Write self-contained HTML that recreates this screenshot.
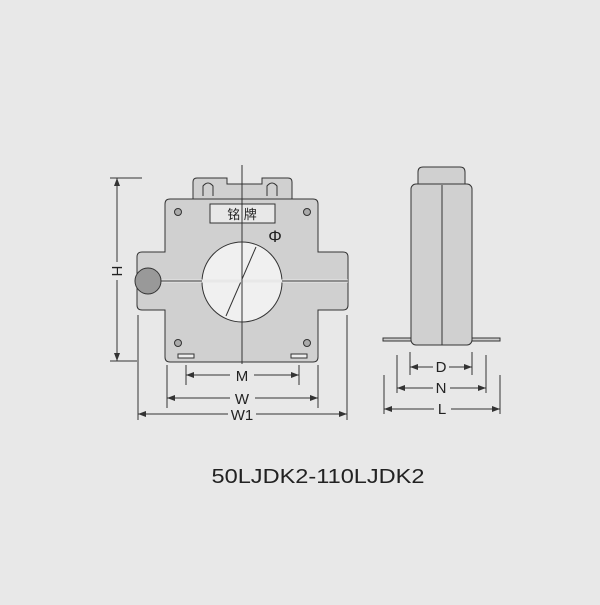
<!DOCTYPE html><html><head><style>body{margin:0;background:#e8e8e8}</style></head><body>
<svg width="600" height="600" viewBox="0 0 600 600" xmlns="http://www.w3.org/2000/svg" font-family="Liberation Sans, sans-serif">
<defs><marker id="a" markerWidth="8" markerHeight="6" refX="8" refY="3" orient="auto-start-reverse" markerUnits="userSpaceOnUse"><path d="M0,0 L8,3 L0,6z" fill="#333"/></marker></defs>
<rect width="600" height="600" fill="#e8e8e8"/>
<g stroke="#333" stroke-width="1" fill="#d0d0d0">
<path d="M193,199 V182 Q193,178 197,178 H227 V184 H262 V178 H288 Q292,178 292,182 V199z"/>
<path d="M203,196 V186 Q208,180 213,186 V196 M267,196 V186 Q272,180 277,186 V196" fill="none"/>
<path d="M170,199 H313 Q318,199 318,204 V252 H343 Q348,252 348,257 V305 Q348,310 343,310 H318 V357 Q318,362 313,362 H170 Q165,362 165,357 V310 H142 Q137,310 137,305 V257 Q137,252 142,252 H165 V204 Q165,199 170,199z"/>
<rect x="210" y="204" width="65" height="19" fill="#e8e8e8"/>
<circle cx="242" cy="282" r="40" fill="#f0f0f0"/>
<line x1="256" y1="247" x2="226" y2="316"/>
<line x1="160" y1="281" x2="348" y2="281" stroke="#e8e8e8" stroke-width="3"/>
<line x1="160" y1="281" x2="202" y2="281"/><line x1="282" y1="281" x2="348" y2="281"/>
<circle cx="148" cy="281" r="13" fill="#999"/>
<g fill="#aaa"><circle cx="178" cy="212" r="3.5"/><circle cx="307" cy="212" r="3.5"/><circle cx="178" cy="343" r="3.5"/><circle cx="307" cy="343" r="3.5"/></g>
<rect x="178" y="354" width="16" height="4" fill="#eee"/><rect x="291" y="354" width="16" height="4" fill="#eee"/>
<line x1="242" y1="165" x2="242" y2="364"/>
<line x1="110" y1="178" x2="142" y2="178"/><line x1="110" y1="361" x2="137" y2="361"/>
<line x1="117" y1="178" x2="117" y2="262" marker-start="url(#a)"/><line x1="117" y1="280" x2="117" y2="361" marker-end="url(#a)"/>
<line x1="186" y1="365" x2="186" y2="385"/><line x1="299" y1="365" x2="299" y2="385"/>
<line x1="186" y1="375" x2="230" y2="375" marker-start="url(#a)"/><line x1="254" y1="375" x2="299" y2="375" marker-end="url(#a)"/>
<line x1="167" y1="365" x2="167" y2="408"/><line x1="318" y1="365" x2="318" y2="408"/>
<line x1="167" y1="398" x2="230" y2="398" marker-start="url(#a)"/><line x1="255" y1="398" x2="318" y2="398" marker-end="url(#a)"/>
<line x1="138" y1="315" x2="138" y2="420"/><line x1="347" y1="315" x2="347" y2="420"/>
<line x1="138" y1="414" x2="228" y2="414" marker-start="url(#a)"/><line x1="256" y1="414" x2="347" y2="414" marker-end="url(#a)"/>
<path d="M418,185 V172 Q418,167 423,167 H460 Q465,167 465,172 V185z"/>
<rect x="383" y="338" width="117" height="3" fill="#ccc"/>
<rect x="411" y="184" width="61" height="161" rx="5"/>
<line x1="442" y1="185" x2="442" y2="345"/>
<line x1="410" y1="352" x2="410" y2="375"/><line x1="472" y1="352" x2="472" y2="375"/>
<line x1="410" y1="367" x2="433" y2="367" marker-start="url(#a)"/><line x1="449" y1="367" x2="472" y2="367" marker-end="url(#a)"/>
<line x1="397" y1="355" x2="397" y2="393"/><line x1="486" y1="355" x2="486" y2="393"/>
<line x1="397" y1="388" x2="433" y2="388" marker-start="url(#a)"/><line x1="450" y1="388" x2="486" y2="388" marker-end="url(#a)"/>
<line x1="384" y1="375" x2="384" y2="414"/><line x1="500" y1="375" x2="500" y2="414"/>
<line x1="384" y1="409" x2="434" y2="409" marker-start="url(#a)"/><line x1="451" y1="409" x2="500" y2="409" marker-end="url(#a)"/>
</g>
<g fill="#222" font-size="15" text-anchor="middle">
<text x="242" y="219" font-family="Liberation Sans, Noto Sans CJK SC, sans-serif" font-size="13">铭 牌</text>
<text x="275" y="242" font-size="17">Φ</text>
<text x="242" y="381">M</text><text x="242" y="404">W</text><text x="242" y="420">W1</text>
<text x="441" y="372">D</text><text x="441" y="393">N</text><text x="442" y="414">L</text>
<text x="117" y="276" transform="rotate(90 117 271)">H</text>
<text x="318" y="483" font-size="20" textLength="213" lengthAdjust="spacingAndGlyphs">50LJDK2-110LJDK2</text>
</g>
</svg></body></html>
